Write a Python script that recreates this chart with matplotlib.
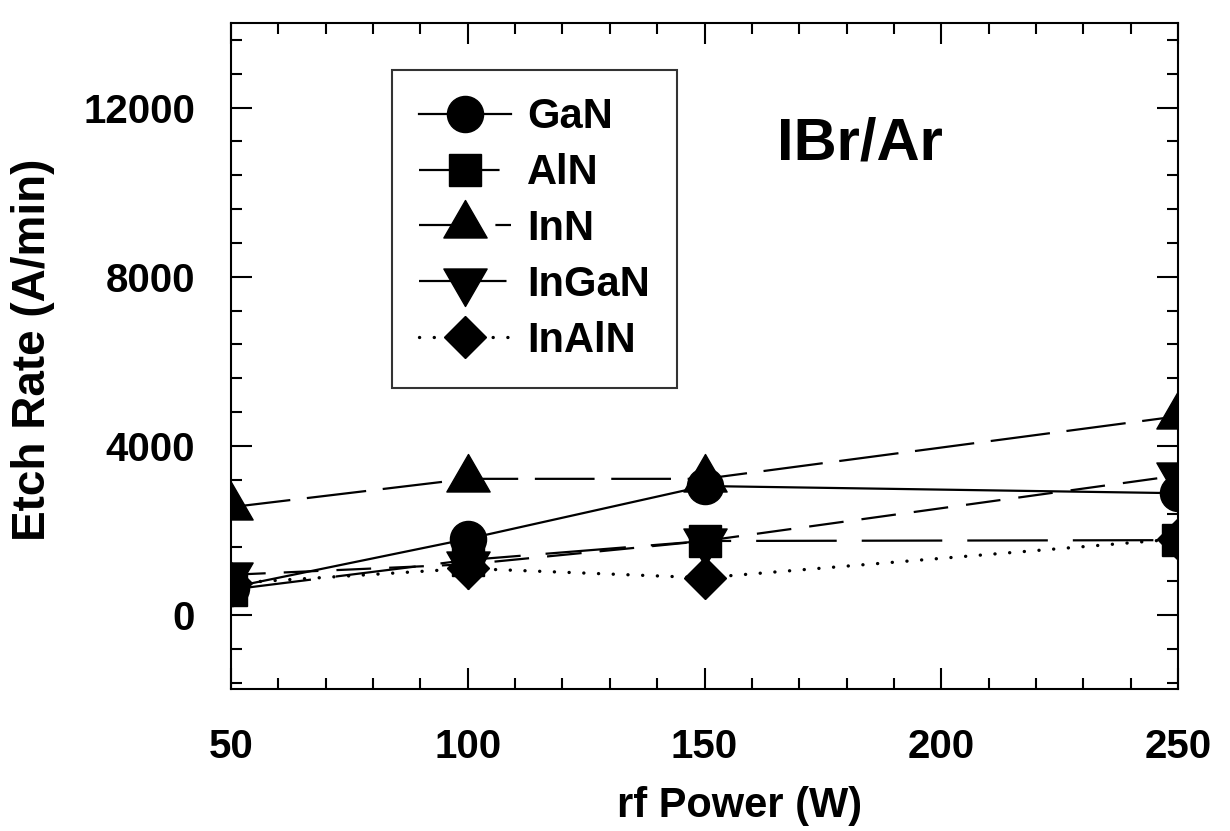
import matplotlib
matplotlib.use("Agg")
import matplotlib.pyplot as plt
from matplotlib.ticker import MultipleLocator
from matplotlib.path import Path

# ---- data ----
power = [50, 100, 150, 250]
gan = [650, 1800, 3050, 2880]
aln = [600, 1300, 1750, 1770]
inn = [2550, 3220, 3220, 4700]
ingan = [950, 1200, 1750, 3300]
inaln = [750, 1100, 880, 1800]
labels = ["GaN", "AlN", "InN", "InGaN", "InAlN"]
xticks = [50, 100, 150, 200, 250]
yticks = [0, 4000, 8000, 12000]

plt.rcParams["font.family"] = ["Liberation Sans", "DejaVu Sans"]
plt.rcParams["font.weight"] = "bold"
plt.rcParams["lines.scale_dashes"] = False

fig = plt.figure(figsize=(12.3, 8.31), dpi=100)
ax = fig.add_axes([0.1878, 0.1709, 0.7700, 0.8014])

# centroid-centred triangles
tri_up = Path([(0, 2/3), (-0.577, -1/3), (0.577, -1/3), (0, 2/3)],
              [Path.MOVETO, Path.LINETO, Path.LINETO, Path.CLOSEPOLY])
tri_dn = Path([(0, -2/3), (-0.577, 1/3), (0.577, 1/3), (0, -2/3)],
              [Path.MOVETO, Path.LINETO, Path.LINETO, Path.CLOSEPOLY])

lw = 1.6
kw = dict(color="black", lw=lw, markeredgecolor="black", markerfacecolor="black")
ax.plot(power, gan, marker="o", ms=26, ls="-", label=labels[0], **kw)
ax.plot(power, aln, marker="s", ms=23, ls=(0, (58, 18)), label=labels[1], **kw)
ax.plot(power, inn, marker=tri_up, ms=36, ls=(0, (43, 12)), label=labels[2], **kw)
ax.plot(power, ingan, marker=tri_dn, ms=36, ls=(0, (25, 13)), label=labels[3], **kw)
ax.plot(power, inaln, marker="D", ms=21, ls=(0, (0.1, 10.5)), dash_capstyle="round",
        label=labels[4], **{**kw, "lw": 2.4})

ax.set_xlim(50, 250)
ax.set_ylim(-1750, 14000)
ax.set_xticks(xticks)
ax.set_yticks(yticks)
ax.xaxis.set_minor_locator(MultipleLocator(10))
ax.yaxis.set_minor_locator(MultipleLocator(800))
ax.tick_params(which="both", direction="in", top=True, right=True, width=1.5, color="black")
ax.tick_params(which="major", length=15)
ax.tick_params(which="minor", length=8)
ax.tick_params(axis="x", which="major", labelsize=29, pad=28)
ax.tick_params(axis="y", which="major", labelsize=29, pad=26)
for lab in ax.get_xticklabels() + ax.get_yticklabels():
    lab.set_fontweight("bold")
for sp in ax.spines.values():
    sp.set_linewidth(1.5)

fig.text(0.601, 0.030, "rf Power (W)", fontsize=30, fontweight="bold",
         ha="center", va="center")
fig.text(0.027, 0.579, "Etch Rate (A/min)", fontsize=33, fontweight="bold",
         ha="center", va="center", rotation=90)
ax.text(0.664, 0.818, "IBr/Ar", transform=ax.transAxes, fontsize=43,
        fontweight="bold", ha="center", va="center")

leg = ax.legend(loc="upper left", bbox_to_anchor=(0.170, 0.929), borderaxespad=0,
                fontsize=30, frameon=True, fancybox=False, edgecolor="black",
                handlelength=2.2, handletextpad=0.4, labelspacing=0.38,
                borderpad=0.65, markerscale=1.0)
leg.get_frame().set_linewidth(1.5)
for t in leg.get_texts():
    t.set_fontweight("bold")

fig.savefig("out.png", dpi=100)
